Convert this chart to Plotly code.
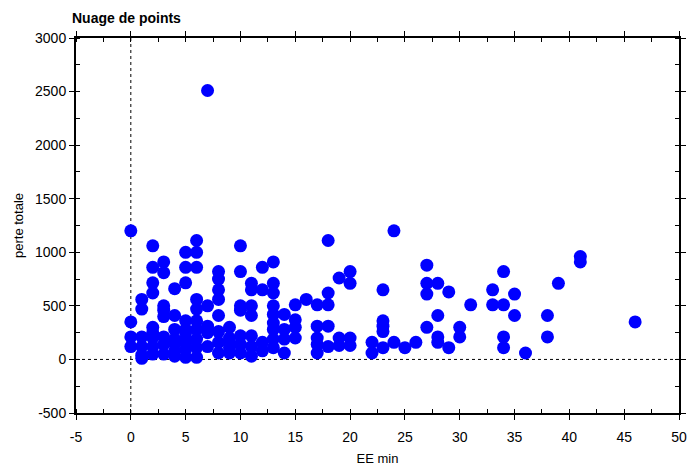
import plotly.graph_objects as go

# Data (EE min -> perte totale)
ee_min = (
    [0]*4 + [1]*6 + [2]*9 + [3]*8 + [4]*7 + [5]*10 + [6]*10 + [7]*6 + [8]*8 + [9]*5
    + [10]*7 + [11]*7 + [12]*4 + [13]*9 + [14]*4 + [15]*4 + [16]*1 + [17]*5 + [18]*5
    + [19]*3 + [20]*4 + [22]*2 + [23]*5 + [24]*2 + [25] + [26] + [27]*4 + [28]*4
    + [29]*2 + [30]*2 + [31] + [33]*2 + [34]*4 + [35]*2 + [36] + [38]*2 + [39]
    + [41]*2 + [46]
)
perte_totale = [
    1200, 350, 210, 120,
    560, 470, 210, 120, 40, 10,
    1060, 860, 715, 620, 300, 250, 200, 120, 50,
    910, 810, 500, 460, 400, 210, 140, 50,
    660, 410, 280, 190, 150, 80, 30,
    1000, 860, 715, 360, 280, 250, 190, 150, 90, 20,
    1110, 1000, 860, 560, 470, 360, 280, 190, 110, 20,
    2510, 500, 310, 280, 250, 120,
    820, 750, 650, 560, 410, 260, 160, 60,
    300, 200, 160, 110, 60,
    1060, 820, 500, 460, 220, 140, 60,
    710, 650, 500, 410, 220, 120, 30,
    860, 650, 160, 80,
    910, 710, 620, 500, 420, 340, 280, 190, 110,
    420, 280, 190, 60,
    510, 370, 300, 200,
    560,
    510, 310, 200, 140, 60,
    1110, 620, 510, 310, 120,
    760, 200, 130,
    820, 710, 200, 130,
    160, 60,
    650, 360, 310, 260, 110,
    1200, 160,
    110,
    160,
    880, 710, 610, 300,
    710, 410, 210, 160,
    630, 110,
    300, 210,
    510,
    650, 510,
    820, 510, 210, 110,
    610, 410,
    60,
    410, 210,
    710,
    960, 910,
    350,
]

x_ticks = [-5, 0, 5, 10, 15, 20, 25, 30, 35, 40, 45, 50]
y_ticks = [-500, 0, 500, 1000, 1500, 2000, 2500, 3000]

fig = go.Figure()
fig.add_trace(go.Scatter(
    x=ee_min, y=perte_totale, mode="markers",
    marker=dict(color="#0000FF", size=13, line=dict(width=0)),
    showlegend=False,
))

fig.add_shape(type="line", xref="x", yref="paper", x0=0, x1=0, y0=0, y1=1,
              line=dict(color="black", width=1, dash="dot"), layer="below")
fig.add_shape(type="line", xref="paper", yref="y", x0=0, x1=1, y0=0, y1=0,
              line=dict(color="black", width=1, dash="dot"), layer="below")

font_family = "Liberation Sans, Arial, sans-serif"
fig.update_layout(
    width=689, height=467,
    margin=dict(l=76, r=10, t=38, b=54),
    paper_bgcolor="white", plot_bgcolor="white",
    font=dict(family=font_family, size=14, color="black"),
    title=dict(text="<b>Nuage de points</b>", x=72/689, xanchor="left",
               y=1-18/467, yanchor="middle", font=dict(size=14, family=font_family)),
    xaxis=dict(
        range=[-5, 50], tickvals=x_ticks, ticktext=[str(v) for v in x_ticks],
        automargin=False,
        showgrid=False, zeroline=False, showline=True, linecolor="black", linewidth=2,
        mirror="ticks", ticks="outside", ticklen=5, tickwidth=1, tickcolor="black",
        ticklabelstandoff=5,
        minor=dict(dtick=2.5, tick0=0, ticks="inside", ticklen=4, tickcolor="black", showgrid=False),
        title=dict(text="EE min", font=dict(size=13), standoff=10),
        tickfont=dict(size=14),
    ),
    yaxis=dict(
        range=[-500, 3000], tickvals=y_ticks, ticktext=[str(v) for v in y_ticks],
        automargin=False,
        showgrid=False, zeroline=False, showline=True, linecolor="black", linewidth=2,
        mirror="ticks", ticks="outside", ticklen=5, tickwidth=1, tickcolor="black",
        minor=dict(dtick=250, tick0=0, ticks="inside", ticklen=4, tickcolor="black", showgrid=False),
        title=dict(text="perte totale", font=dict(size=13), standoff=8),
        tickfont=dict(size=14),
    ),
)

fig.write_html("out.html")
